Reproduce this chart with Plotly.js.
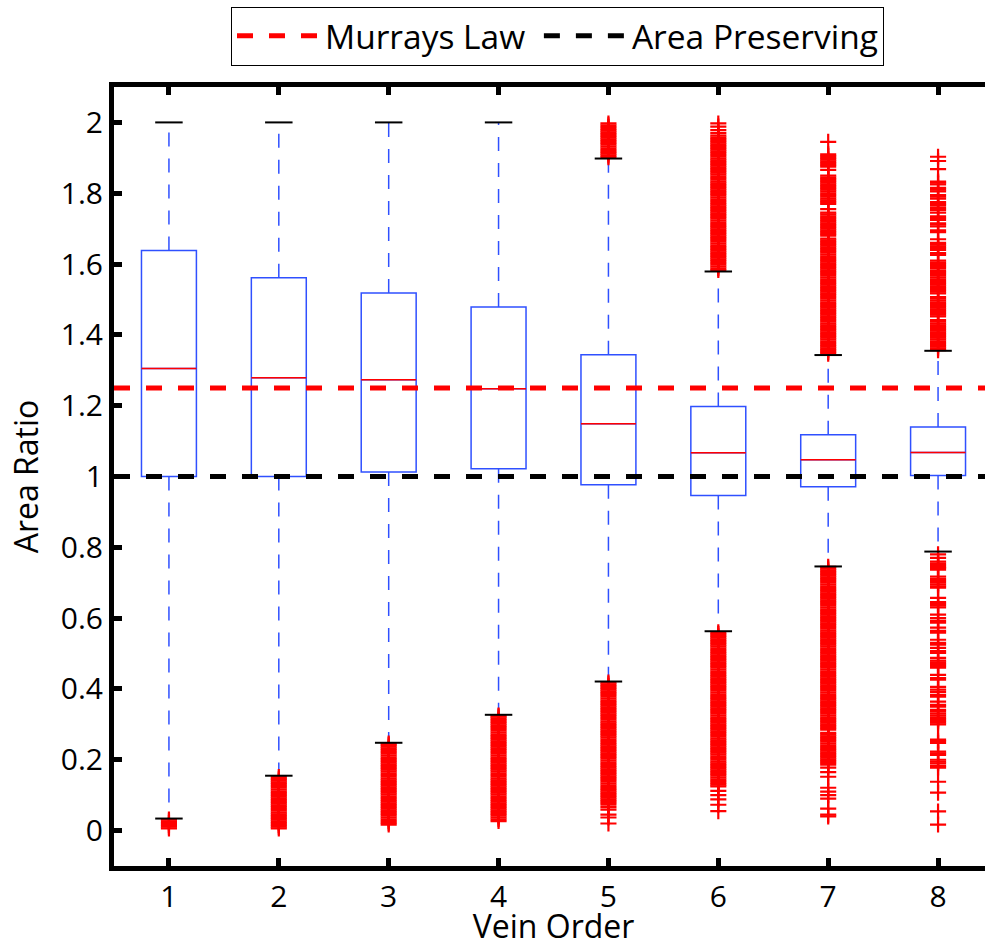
<!DOCTYPE html>
<html><head><meta charset="utf-8">
<script src="https://cdn.plot.ly/plotly-3.0.1.min.js"></script>
<style>html,body{margin:0;padding:0;overflow:hidden;background:#fff}#chart{width:1000px;height:947px}</style>
</head><body><div id="chart"></div>
<script>
// ---- data ----
const veinOrder = [1, 2, 3, 4, 5, 6, 7, 8];
const xTickText = ['1', '2', '3', '4', '5', '6', '7', '8'];
const q1 = [1.0, 1.0, 1.013, 1.022, 0.977, 0.946, 0.971, 1.003];
const median = [1.305, 1.279, 1.273, 1.248, 1.149, 1.067, 1.047, 1.068];
const q3 = [1.638, 1.561, 1.518, 1.479, 1.344, 1.198, 1.118, 1.14];
const whiskerLow = [0.034, 0.155, 0.248, 0.327, 0.421, 0.563, 0.746, 0.788];
const whiskerHigh = [2.0, 2.0, 2.0, 2.0, 1.898, 1.579, 1.343, 1.355];

const outliers1 = [0.006, 0.011, 0.016, 0.021, 0.026, 0.031];
const outliers2 = [0.006, 0.011, 0.016, 0.021, 0.026, 0.031, 0.036, 0.041, 0.046, 0.051,
  0.056, 0.061, 0.066, 0.071, 0.076, 0.081, 0.086, 0.091, 0.096, 0.101,
  0.106, 0.111, 0.116, 0.121, 0.126, 0.131, 0.136, 0.141, 0.146, 0.151];
const outliers3 = [0.017, 0.022, 0.027, 0.032, 0.037, 0.042, 0.047, 0.052, 0.057, 0.062,
  0.067, 0.072, 0.077, 0.082, 0.087, 0.092, 0.097, 0.102, 0.107, 0.112,
  0.117, 0.122, 0.127, 0.132, 0.137, 0.142, 0.147, 0.152, 0.157, 0.162,
  0.167, 0.172, 0.177, 0.182, 0.187, 0.192, 0.197, 0.202, 0.207, 0.212,
  0.217, 0.222, 0.227, 0.232, 0.237, 0.242, 0.246];
const outliers4 = [0.027, 0.032, 0.037, 0.042, 0.047, 0.052, 0.057, 0.062, 0.067, 0.072,
  0.077, 0.082, 0.087, 0.092, 0.097, 0.102, 0.107, 0.112, 0.117, 0.122,
  0.127, 0.132, 0.137, 0.142, 0.147, 0.152, 0.157, 0.162, 0.167, 0.172,
  0.177, 0.182, 0.187, 0.192, 0.197, 0.202, 0.207, 0.212, 0.217, 0.222,
  0.227, 0.232, 0.237, 0.242, 0.247, 0.252, 0.257, 0.262, 0.267, 0.272,
  0.277, 0.282, 0.287, 0.292, 0.297, 0.302, 0.307, 0.312, 0.317, 0.322, 0.325];
const outliers5 = [0.02, 0.037, 0.045, 0.059, 0.066,
  0.073, 0.078, 0.083, 0.088, 0.093, 0.098, 0.103, 0.108, 0.113, 0.118,
  0.123, 0.128, 0.133, 0.138, 0.143, 0.148, 0.153, 0.158, 0.163, 0.168,
  0.173, 0.178, 0.183, 0.188, 0.193, 0.198, 0.203, 0.208, 0.213, 0.218,
  0.223, 0.228, 0.233, 0.238, 0.243, 0.248, 0.253, 0.258, 0.263, 0.268,
  0.273, 0.278, 0.283, 0.288, 0.293, 0.298, 0.303, 0.308, 0.313, 0.318,
  0.323, 0.328, 0.333, 0.338, 0.343, 0.348, 0.353, 0.358, 0.363, 0.368,
  0.373, 0.378, 0.383, 0.388, 0.393, 0.398, 0.403, 0.408, 0.413, 0.418,
  1.902, 1.907, 1.912, 1.917, 1.922, 1.927, 1.932, 1.937, 1.942, 1.947,
  1.952, 1.957, 1.962, 1.967, 1.972, 1.977, 1.982, 1.987, 1.992, 1.997];
const outliers6 = [0.055, 0.073, 0.088, 0.1, 0.112, 0.125,
  0.13, 0.135, 0.14, 0.145, 0.15, 0.155, 0.16, 0.165, 0.17, 0.175,
  0.18, 0.185, 0.19, 0.195, 0.2, 0.205, 0.21, 0.215, 0.22, 0.225,
  0.23, 0.235, 0.24, 0.245, 0.25, 0.255, 0.26, 0.265, 0.27, 0.275,
  0.28, 0.285, 0.29, 0.295, 0.3, 0.305, 0.31, 0.315, 0.32, 0.325,
  0.33, 0.335, 0.34, 0.345, 0.35, 0.355, 0.36, 0.365, 0.37, 0.375,
  0.38, 0.385, 0.39, 0.395, 0.4, 0.405, 0.41, 0.415, 0.42, 0.425,
  0.43, 0.435, 0.44, 0.445, 0.45, 0.455, 0.46, 0.465, 0.47, 0.475,
  0.48, 0.485, 0.49, 0.495, 0.5, 0.505, 0.51, 0.515, 0.52, 0.525,
  0.53, 0.535, 0.54, 0.545, 0.55, 0.555, 0.56,
  1.583, 1.588, 1.593, 1.598, 1.603, 1.608, 1.613, 1.618, 1.623, 1.628,
  1.633, 1.638, 1.643, 1.648, 1.653, 1.658, 1.663, 1.668, 1.673, 1.678,
  1.683, 1.688, 1.693, 1.698, 1.703, 1.708, 1.713, 1.718, 1.723, 1.728,
  1.733, 1.738, 1.743, 1.748, 1.753, 1.758, 1.763, 1.768, 1.773, 1.778,
  1.783, 1.788, 1.793, 1.798, 1.803, 1.808, 1.813, 1.818, 1.823, 1.828,
  1.833, 1.838, 1.843, 1.848, 1.853, 1.858, 1.863, 1.868, 1.873, 1.878,
  1.883, 1.888, 1.893, 1.898, 1.903, 1.908, 1.913, 1.918, 1.923, 1.928,
  1.933, 1.938, 1.943, 1.948, 1.953, 1.958, 1.963, 1.97, 1.978, 1.988, 1.997];
const outliers7 = [0.04, 0.045, 0.062, 0.09, 0.1, 0.11, 0.121, 0.152, 0.165, 0.178,
  0.186, 0.191, 0.196, 0.201, 0.206, 0.211, 0.216, 0.221, 0.226, 0.231,
  0.236, 0.241, 0.246, 0.251, 0.256, 0.261, 0.266, 0.271, 0.276,
  0.285, 0.29, 0.295, 0.3, 0.305, 0.31, 0.315, 0.32, 0.325, 0.33,
  0.335, 0.34, 0.345, 0.35, 0.355, 0.36, 0.365, 0.37, 0.375, 0.38,
  0.385, 0.39, 0.395, 0.4, 0.405, 0.41, 0.415, 0.42, 0.425, 0.43,
  0.435, 0.44, 0.445, 0.45, 0.455, 0.46, 0.465, 0.47, 0.475, 0.48,
  0.485, 0.49, 0.495, 0.5, 0.505, 0.51, 0.515, 0.52, 0.525, 0.53,
  0.535, 0.54, 0.545, 0.55, 0.555, 0.56, 0.565, 0.57, 0.575, 0.58,
  0.585, 0.59, 0.595, 0.6, 0.605, 0.61, 0.615, 0.62, 0.625, 0.63,
  0.635, 0.64, 0.645, 0.65, 0.655, 0.66, 0.665, 0.67, 0.675, 0.68,
  0.685, 0.69, 0.695, 0.7, 0.705, 0.71, 0.715, 0.72, 0.725, 0.73,
  0.735, 0.74, 0.745,
  1.347, 1.352, 1.357, 1.362, 1.367, 1.372, 1.377, 1.382, 1.387, 1.392,
  1.397, 1.402, 1.407, 1.412, 1.417, 1.422, 1.427, 1.432, 1.437, 1.442,
  1.447, 1.452, 1.457, 1.462, 1.467, 1.472, 1.477, 1.482, 1.487, 1.492,
  1.497, 1.502, 1.507, 1.512, 1.517, 1.522, 1.527, 1.532, 1.537, 1.542,
  1.547, 1.552, 1.557, 1.562, 1.567, 1.572, 1.577, 1.582, 1.587, 1.592,
  1.597, 1.602, 1.607, 1.612, 1.617, 1.622, 1.627, 1.632, 1.637, 1.642,
  1.647, 1.652, 1.657, 1.662, 1.667, 1.672,
  1.68, 1.685, 1.69, 1.695, 1.7, 1.705, 1.71, 1.715, 1.72, 1.725, 1.73, 1.735, 1.74,
  1.745, 1.755, 1.77, 1.775, 1.78, 1.785, 1.79, 1.795,
  1.8, 1.805, 1.81, 1.815, 1.82, 1.825, 1.83, 1.835, 1.84, 1.845, 1.85,
  1.866, 1.875, 1.88, 1.885, 1.89, 1.895, 1.9, 1.905, 1.91, 1.945];
const outliers8 = [0.017, 0.054, 0.107, 0.138, 0.178, 0.183, 0.19, 0.195, 0.2, 0.214,
  0.218, 0.223, 0.248, 0.253, 0.257, 0.3, 0.305, 0.31, 0.315, 0.32,
  0.325, 0.33, 0.336, 0.341, 0.35, 0.355, 0.364, 0.378, 0.383, 0.392,
  0.398, 0.406, 0.426, 0.431, 0.44, 0.46, 0.465, 0.47, 0.475, 0.48,
  0.488, 0.502, 0.507, 0.516, 0.525, 0.53, 0.539, 0.559, 0.564, 0.573,
  0.587, 0.592, 0.6, 0.61, 0.63, 0.635, 0.64, 0.645, 0.657, 0.686,
  0.69, 0.695, 0.7, 0.705, 0.71, 0.717, 0.737, 0.742, 0.745, 0.75,
  0.755, 0.76, 0.77, 0.78,
  1.357, 1.362, 1.367, 1.372, 1.377, 1.382, 1.387, 1.392, 1.397, 1.402,
  1.407, 1.412, 1.417, 1.422, 1.427, 1.432, 1.437, 1.442, 1.452, 1.457,
  1.462, 1.467, 1.472, 1.477, 1.482, 1.487, 1.492, 1.497, 1.502, 1.507,
  1.517, 1.522, 1.527, 1.532, 1.537, 1.542, 1.547, 1.552, 1.557, 1.562,
  1.567, 1.572, 1.577, 1.582, 1.589, 1.594, 1.6, 1.605, 1.61, 1.626,
  1.631, 1.64, 1.645, 1.65, 1.655, 1.66, 1.67, 1.69, 1.695, 1.706,
  1.711, 1.715, 1.725, 1.73, 1.735, 1.745, 1.753, 1.758, 1.765, 1.77,
  1.775, 1.785, 1.79, 1.795, 1.805, 1.81, 1.815, 1.825, 1.83, 1.833,
  1.868, 1.891, 1.903];
const allOutliers = [outliers1, outliers2, outliers3, outliers4, outliers5, outliers6, outliers7, outliers8];

const murraysLaw = 1.25;
const areaPreserving = 1.0;
const seriesNames = ['Murrays Law', 'Area Preserving'];
const yTickVals = [0, 0.2, 0.4, 0.6, 0.8, 1, 1.2, 1.4, 1.6, 1.8, 2];
const yTickText = ['0', '0.2', '0.4', '0.6', '0.8', '1', '1.2', '1.4', '1.6', '1.8', '2'];

// ---- styles ----
const BLUE = '#2f50ff', RED = '#ff0000';
const BOX_HALF = 0.25, CAP_HALF = 0.125;
const xRange = [0.5, 8.5];

// ---- derived traces ----
const whX = [], whY = [], capX = [], capY = [], medX = [], medY = [], outX = [], outY = [];
veinOrder.forEach((v, i) => {
  whX.push(v, v, null, v, v, null);
  whY.push(q3[i], whiskerHigh[i], null, q1[i], whiskerLow[i], null);
  capX.push(v - CAP_HALF, v + CAP_HALF, null, v - CAP_HALF, v + CAP_HALF, null);
  capY.push(whiskerHigh[i], whiskerHigh[i], null, whiskerLow[i], whiskerLow[i], null);
  medX.push(v - BOX_HALF, v + BOX_HALF, null);
  medY.push(median[i], median[i], null);
  allOutliers[i].forEach(o => { outX.push(v); outY.push(o); });
});

const traces = [
  { type: 'box', x: veinOrder, q1: q1, median: median, q3: q3, lowerfence: q1, upperfence: q3,
    width: 2 * BOX_HALF, whiskerwidth: 0, boxpoints: false, fillcolor: 'rgba(0,0,0,0)',
    line: { color: BLUE, width: 1.5 }, showlegend: false, hoverinfo: 'skip' },
  { type: 'scatter', mode: 'lines', x: whX, y: whY, line: { color: BLUE, width: 1.5, dash: '14px,12px' },
    showlegend: false, hoverinfo: 'skip' },
  { type: 'scatter', mode: 'markers', x: outX, y: outY,
    marker: { symbol: 'cross-thin-open', size: 11.5, line: { color: RED, width: 2.2 }, color: RED },
    showlegend: false, hoverinfo: 'skip' },
  { type: 'scatter', mode: 'lines', x: capX, y: capY, line: { color: '#000', width: 2 },
    showlegend: false, hoverinfo: 'skip' },
  { type: 'scatter', mode: 'lines', x: medX, y: medY, line: { color: RED, width: 1.5 },
    showlegend: false, hoverinfo: 'skip' },
  // a no-break space after the first name widens the gap between the two legend entries
  { type: 'scatter', mode: 'lines', name: seriesNames[0] + '\u00a0', x: xRange, y: [murraysLaw, murraysLaw],
    line: { color: RED, width: 5, dash: '16px,16px' } },
  { type: 'scatter', mode: 'lines', name: seriesNames[1], x: xRange, y: [areaPreserving, areaPreserving],
    line: { color: '#000', width: 5, dash: '16px,16px' } }
];

const axisCommon = {
  showline: true, linewidth: 5, linecolor: '#000', mirror: 'ticks',
  ticks: 'inside', ticklen: 8, tickwidth: 5, tickcolor: '#000',
  showgrid: false, zeroline: false, tickfont: { size: 30, color: '#000' }
};

const layout = {
  width: 1000, height: 947,
  margin: { l: 114, r: 7, t: 87, b: 81 },
  paper_bgcolor: '#fff', plot_bgcolor: '#fff',
  font: { family: 'Open Sans, sans-serif', color: '#000' },
  xaxis: Object.assign({}, axisCommon, {
    range: xRange, tickmode: 'array', tickvals: veinOrder, ticktext: xTickText,
    title: { text: 'Vein Order', font: { size: 32 }, standoff: 7 }
  }),
  yaxis: Object.assign({}, axisCommon, {
    range: [-0.1, 2.1], tickmode: 'array', tickvals: yTickVals, ticktext: yTickText,
    title: { text: 'Area Ratio', font: { size: 32 }, standoff: 14 }
  }),
  legend: {
    orientation: 'h', x: 0.1331, y: 1.1033, xanchor: 'left', yanchor: 'top',
    bgcolor: '#fff', bordercolor: '#000', borderwidth: 1,
    font: { size: 33.5, color: '#000' }, itemwidth: 83
  },
  showlegend: true
};

Plotly.newPlot('chart', traces, layout, { displayModeBar: false, staticPlot: true });
</script>
</body></html>
